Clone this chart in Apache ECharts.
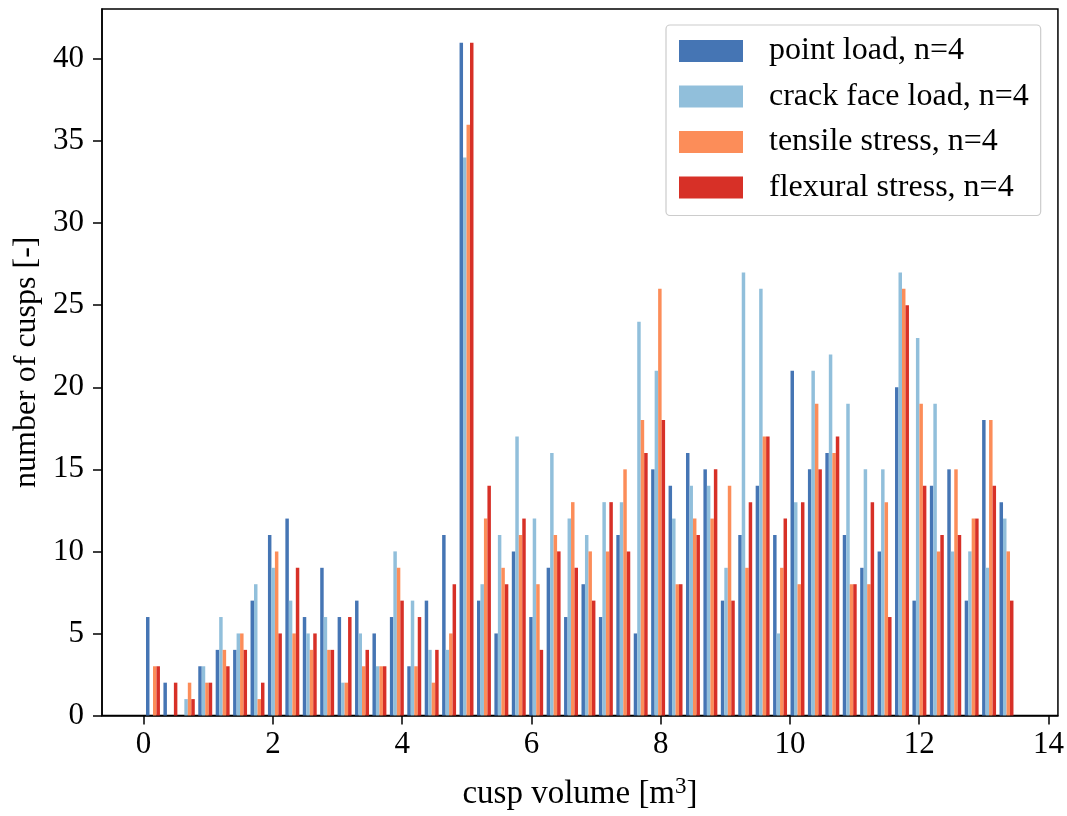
<!DOCTYPE html>
<html>
<head>
<meta charset="utf-8">
<script src="https://cdn.jsdelivr.net/npm/echarts@6/dist/echarts.min.js"></script>
<style>
html,body{margin:0;padding:0;background:#fff;}
#chart{width:1067px;height:816px;}
</style>
</head>
<body>
<div id="chart"></div>
<script>
// histogram bins (50 bins)
const binStart = 0.01;
const binWidth = 0.2695;
const seriesNames = ['point load, n=4', 'crack face load, n=4', 'tensile stress, n=4', 'flexural stress, n=4'];
const seriesColors = ['#4575b4', '#91bfdb', '#fc8d59', '#d73027'];

const pointLoad = [6,2,0,3,4,4,7,11,12,6,9,6,7,5,6,3,7,11,41,7,5,10,6,9,6,8,6,11,5,15,14,16,15,7,11,14,11,21,15,16,11,9,10,20,7,14,15,7,18,13];
const crackFaceLoad = [0,0,1,3,6,5,8,9,7,5,6,2,5,3,10,7,4,4,34,8,11,17,12,16,12,11,13,13,24,21,12,14,14,9,27,26,5,13,21,22,19,15,15,27,23,19,10,10,9,12];
const tensileStress = [3,0,2,2,4,5,1,10,5,4,4,2,3,3,9,3,2,5,36,12,9,11,8,11,13,10,10,15,18,26,8,12,12,14,9,17,9,8,19,16,8,8,13,26,19,10,15,12,18,10];
const flexuralStress = [3,2,1,2,3,4,2,5,9,5,4,6,4,3,7,6,4,8,41,14,8,12,4,10,9,7,13,10,16,18,8,11,15,7,13,17,12,13,15,17,8,13,6,25,14,11,11,12,14,7];

const xTicks = [0,2,4,6,8,10,12,14];
const yTicks = [0,5,10,15,20,25,30,35,40];

const allCounts = [pointLoad, crackFaceLoad, tensileStress, flexuralStress];
const nSeries = allCounts.length;
const rwidth = 0.8;

const font = 'Liberation Serif, Times New Roman, serif';

const series = allCounts.map((counts, s) => ({
  type: 'custom',
  name: seriesNames[s],
  itemStyle: { color: seriesColors[s] },
  encode: { x: 0, y: 1 },
  data: counts.map((c, i) => [binStart + i * binWidth, c]),
  renderItem: function (params, api) {
    const left = api.value(0);
    const val = api.value(1);
    if (!val) return null;
    const w = binWidth * rwidth / nSeries;
    const x0 = left + binWidth * (1 - rwidth) / 2 + s * w;
    const p0 = api.coord([x0, val]);
    const p1 = api.coord([x0 + w, 0]);
    return {
      type: 'rect',
      shape: { x: p0[0], y: p0[1], width: p1[0] - p0[0], height: p1[1] - p0[1] },
      style: { fill: seriesColors[s] }
    };
  }
}));

const chart = echarts.init(document.getElementById('chart'), null, { renderer: 'canvas' });
chart.setOption({
  animation: false,
  backgroundColor: '#fff',
  color: seriesColors,
  grid: {
    left: 102, right: 9, top: 9, bottom: 96,
    show: true, borderColor: '#000', borderWidth: 1.5, backgroundColor: 'transparent'
  },
  legend: {
    orient: 'vertical',
    left: 666, top: 25,
    padding: [10, 12, 12, 13],
    itemWidth: 64, itemHeight: 22, itemGap: 13.5,
    backgroundColor: 'rgba(255,255,255,0.8)',
    borderColor: '#cccccc', borderWidth: 1.2, borderRadius: 4,
    icon: 'rect',
    textStyle: { fontFamily: font, fontSize: 32, color: '#000', padding: [0, 0, 0, 21] },
    data: seriesNames
  },
  xAxis: {
    type: 'value',
    min: -0.644, max: 14.146,
    name: 'cusp volume [m{sup|3}]',
    nameLocation: 'middle',
    nameGap: 60,
    nameTextStyle: {
      fontFamily: font, fontSize: 33, color: '#000',
      rich: { sup: { fontFamily: font, fontSize: 23, verticalAlign: 'bottom', padding: [0, 0, 15, 0], color: '#000' } }
    },
    axisLine: { show: true, onZero: false, lineStyle: { color: '#000', width: 1.5 } },
    axisTick: { show: true, length: 9, lineStyle: { color: '#000', width: 1.5 }, customValues: xTicks },
    axisLabel: { fontFamily: font, fontSize: 31, color: '#000', margin: 14, customValues: xTicks },
    splitLine: { show: false }
  },
  yAxis: {
    type: 'value',
    min: 0, max: 43.05,
    name: 'number of cusps [-]',
    nameLocation: 'middle',
    nameGap: 55,
    nameRotate: 90,
    nameTextStyle: { fontFamily: font, fontSize: 32, color: '#000' },
    axisLine: { show: true, onZero: false, lineStyle: { color: '#000', width: 1.5 } },
    axisTick: { show: true, length: 9, lineStyle: { color: '#000', width: 1.5 }, customValues: yTicks },
    axisLabel: { fontFamily: font, fontSize: 31, color: '#000', margin: 18, customValues: yTicks },
    splitLine: { show: false }
  },
  series: series
});
</script>
</body>
</html>
